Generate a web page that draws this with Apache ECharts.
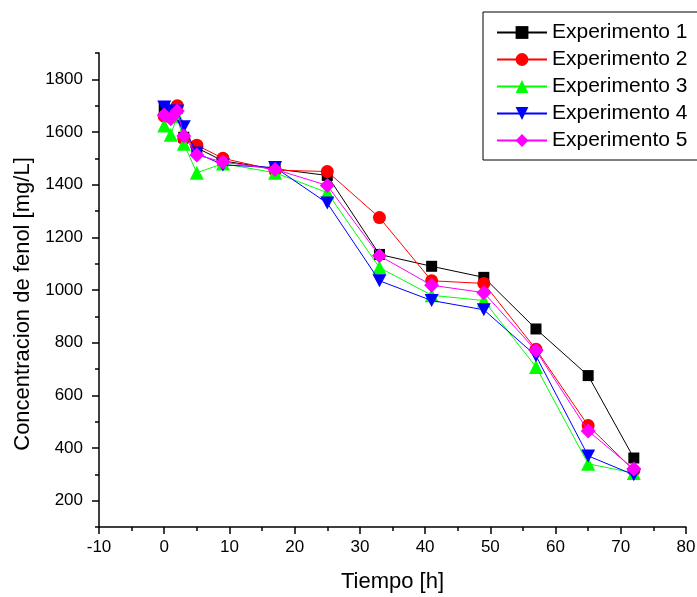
<!DOCTYPE html>
<html>
<head>
<meta charset="utf-8">
<script src="https://cdn.jsdelivr.net/npm/echarts@6/dist/echarts.min.js"></script>
<style>html,body{margin:0;padding:0;background:#fff}#c{width:697px;height:597px}</style>
</head>
<body>
<div id="c"></div>
<script>
const times = [0, 1, 2, 3, 5, 9, 17, 25, 33, 41, 49, 57, 65, 72];
const exp1 = [1690, 1670, 1690, 1580, 1540, 1490, 1460, 1435, 1135, 1090, 1048, 852, 675, 362];
const exp2 = [1660, 1655, 1700, 1575, 1550, 1500, 1455, 1450, 1275, 1035, 1025, 775, 485, 315];
const exp3 = [1625, 1590, 1660, 1555, 1445, 1480, 1445, 1370, 1085, 980, 960, 708, 340, 305];
const exp4 = [1695, 1680, 1680, 1620, 1520, 1475, 1465, 1330, 1035, 960, 925, 750, 370, 298];
const exp5 = [1665, 1650, 1680, 1585, 1513, 1486, 1458, 1397, 1130, 1018, 990, 770, 465, 320];
const seriesNames = ['Experimento 1', 'Experimento 2', 'Experimento 3', 'Experimento 4', 'Experimento 5'];
const yLabelValues = [200, 400, 600, 800, 1000, 1200, 1400, 1600, 1800];

const FONT = '"Liberation Sans", Arial, sans-serif';
const colors = ['#000000', '#ff0000', '#00ff00', '#0000ff', '#ff00ff'];
const symbols = ['rect', 'circle', 'triangle', 'path://M0,0 L10,0 L5,9 Z', 'diamond'];
const sizes = [11, 13, 14, [14, 13], 15];
const allData = [exp1, exp2, exp3, exp4, exp5];

const series = allData.map((d, i) => ({
  name: seriesNames[i],
  type: 'line',
  data: times.map((t, j) => [t, d[j]]),
  symbol: symbols[i],
  symbolSize: sizes[i],
  showAllSymbol: true,
  itemStyle: { color: colors[i] },
  lineStyle: { color: colors[i], width: 1 },
  z: 2 + i
}));

const chart = echarts.init(document.getElementById('c'), null, { renderer: 'canvas' });
chart.setOption({
  animation: false,
  backgroundColor: '#fff',
  textStyle: { fontFamily: FONT },
  grid: { left: 99, right: 11, top: 53, bottom: 70, outerBoundsMode: 'none' },
  legend: {
    orient: 'vertical',
    left: 483,
    top: 12,
    padding: [10, 40, 9, 13],
    borderColor: '#000',
    borderWidth: 1,
    itemWidth: 50,
    itemHeight: 16,
    itemGap: 6,
    textStyle: { fontFamily: FONT, fontSize: 21, color: '#000', lineHeight: 21 },
    data: seriesNames
  },
  xAxis: {
    type: 'value',
    min: -10, max: 80, interval: 10,
    name: 'Tiempo [h]',
    nameLocation: 'middle',
    nameGap: 44,
    nameTextStyle: { fontFamily: FONT, fontSize: 22, color: '#000' },
    axisLine: { show: true, onZero: false, lineStyle: { color: '#000', width: 1.5 } },
    axisTick: { show: true, inside: false, length: 7, lineStyle: { color: '#000', width: 1.5 } },
    minorTick: { show: true, splitNumber: 2, length: 4, lineStyle: { color: '#000', width: 1.5 } },
    axisLabel: { fontFamily: FONT, fontSize: 17, color: '#000', margin: 12, formatter: v => String(v) },
    splitLine: { show: false }
  },
  yAxis: [{
    type: 'value',
    min: 100, max: 1900, interval: 100,
    name: 'Concentracion de fenol [mg/L]',
    nameLocation: 'middle',
    nameGap: 64,
    nameTextStyle: { fontFamily: FONT, fontSize: 22, color: '#000', padding: [0, 28, 0, 0] },
    axisLine: { show: true, onZero: false, lineStyle: { color: '#000', width: 1.5 } },
    axisTick: { show: true, inside: false, length: 7, customValues: yLabelValues, lineStyle: { color: '#000', width: 1.5 } },
    axisLabel: { fontFamily: FONT, fontSize: 17, color: '#000', margin: 16, customValues: yLabelValues, formatter: v => String(v) },
    splitLine: { show: false }
  }, {
    type: 'value',
    position: 'left',
    min: 100, max: 1900, interval: 100,
    axisLine: { show: false, onZero: false },
    axisTick: { show: true, inside: false, length: 4, lineStyle: { color: '#000', width: 1.5 } },
    axisLabel: { show: false },
    splitLine: { show: false }
  }],
  series: series
});
</script>
</body>
</html>
